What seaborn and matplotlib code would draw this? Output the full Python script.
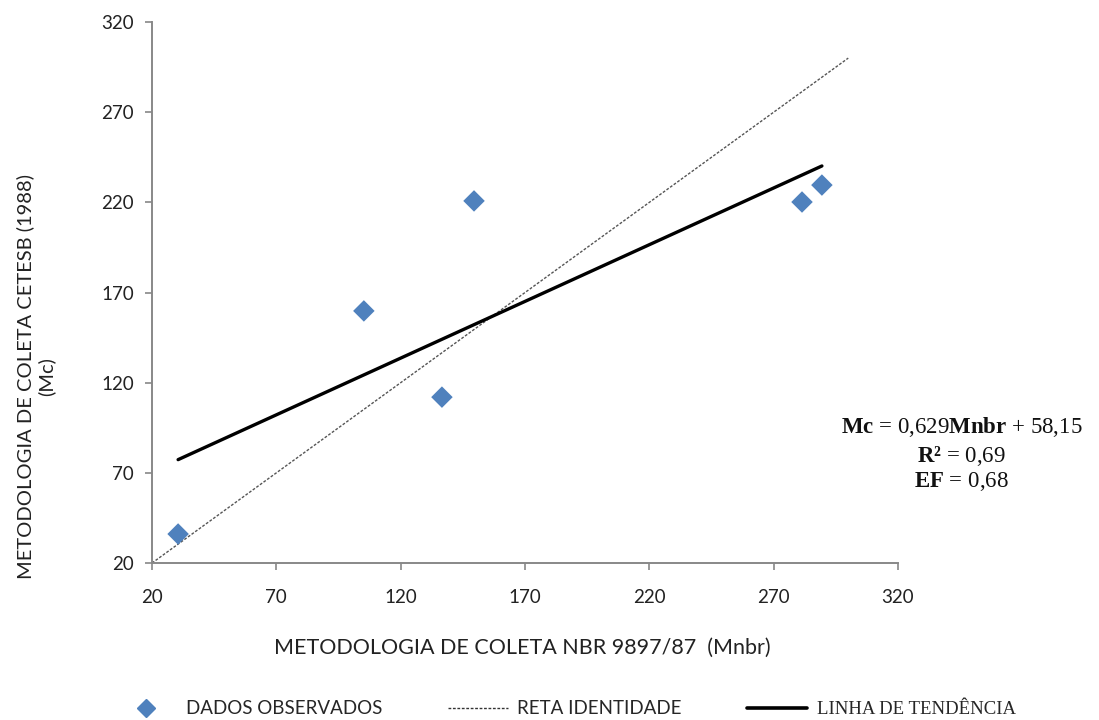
import numpy as np
import pandas as pd
import matplotlib
matplotlib.use("Agg")
import matplotlib.pyplot as plt
from matplotlib.lines import Line2D
import seaborn as sns

# Observed pairs: NBR 9897/87 method (x) vs CETESB 1988 method (y)
mnbr = [30.5, 105.2, 136.6, 149.5, 281.4, 289.4]
mc = [36.1, 159.8, 112.0, 220.8, 220.2, 229.6]

# Fitted trend and its statistics
slope = 0.629
intercept = 58.15
r2_text = "0,69"
ef_text = "0,68"

# Identity line extent
identity = [20, 300]

ticks = [20, 70, 120, 170, 220, 270, 320]

sns.set_theme(style="ticks")
plt.rcParams["font.family"] = ["Lato", "DejaVu Sans"]
plt.rcParams["mathtext.fontset"] = "custom"
plt.rcParams["mathtext.rm"] = "Liberation Serif"
plt.rcParams["mathtext.bf"] = "Liberation Serif:bold"

fig = plt.figure(figsize=(10.99, 7.2), dpi=100)
ax = fig.add_axes([0.1383, 0.218, 0.6788, 0.7514])

obs = pd.DataFrame({"Mnbr": mnbr, "Mc": mc})
x_fit = np.array([min(mnbr), max(mnbr)])
trend = pd.DataFrame({"x": x_fit, "y": slope * x_fit + intercept})
ident = pd.DataFrame({"x": identity, "y": identity})

sns.lineplot(data=ident, x="x", y="y", ax=ax, color="#555555", lw=1.0,
             linestyle=(0, (2, 1.2)), zorder=2)
sns.lineplot(data=trend, x="x", y="y", ax=ax, color="black", lw=2.4, zorder=3)
sns.scatterplot(data=obs, x="Mnbr", y="Mc", ax=ax, marker="D", s=120,
                color="#4F81BD", edgecolor="none", zorder=4)

ax.set_xlim(20, 320)
ax.set_ylim(20, 320)
ax.set_xticks(ticks)
ax.set_yticks(ticks)
ax.tick_params(axis="both", labelsize=13.5, colors="#888888", labelcolor="#222222",
               length=5, width=1.2, direction="out", pad=8)
ax.tick_params(axis="x", pad=14)
for side in ("top", "right"):
    ax.spines[side].set_visible(False)
for side in ("left", "bottom"):
    ax.spines[side].set_color("#888888")
    ax.spines[side].set_linewidth(1.4)

ax.set_xlabel("METODOLOGIA DE COLETA NBR 9897/87  (Mnbr)", fontsize=15.5,
              color="#222222")
ax.xaxis.set_label_coords(0.497, -0.139)
ax.set_ylabel("METODOLOGIA DE COLETA CETESB (1988)\n(Mc)", fontsize=14.5,
              color="#222222", linespacing=1.2)
ax.yaxis.set_label_coords(-0.130, 0.345)

eq_kw = dict(ha="center", va="center", fontsize=16.5, color="#111111",
             family="Liberation Serif", transform=fig.transFigure)
fig.text(0.875, 0.407, r"$\mathbf{Mc}$ = 0,629$\mathbf{Mnbr}$ + 58,15", **eq_kw)
fig.text(0.875, 0.367, r"$\mathbf{R²}$ = " + r2_text, **eq_kw)
fig.text(0.875, 0.331, r"$\mathbf{EF}$ = " + ef_text, **eq_kw)

handles = [
    Line2D([], [], marker="D", linestyle="none", color="#4F81BD", markersize=9),
    Line2D([], [], color="#333333", lw=1.0, linestyle=(0, (2, 1.2))),
    Line2D([], [], color="black", lw=2.6),
]
labels = ["DADOS OBSERVADOS", "RETA IDENTIDADE", "LINHA DE TENDÊNCIA"]
leg = fig.legend(handles, labels, loc="center", bbox_to_anchor=(0.515, 0.015),
                 ncol=3, frameon=False, fontsize=13.5, handlelength=3.2,
                 columnspacing=3.5, handletextpad=0.5)
leg.get_texts()[2].set_family("Liberation Serif")

fig.savefig("out.png", dpi=100, facecolor="white")
